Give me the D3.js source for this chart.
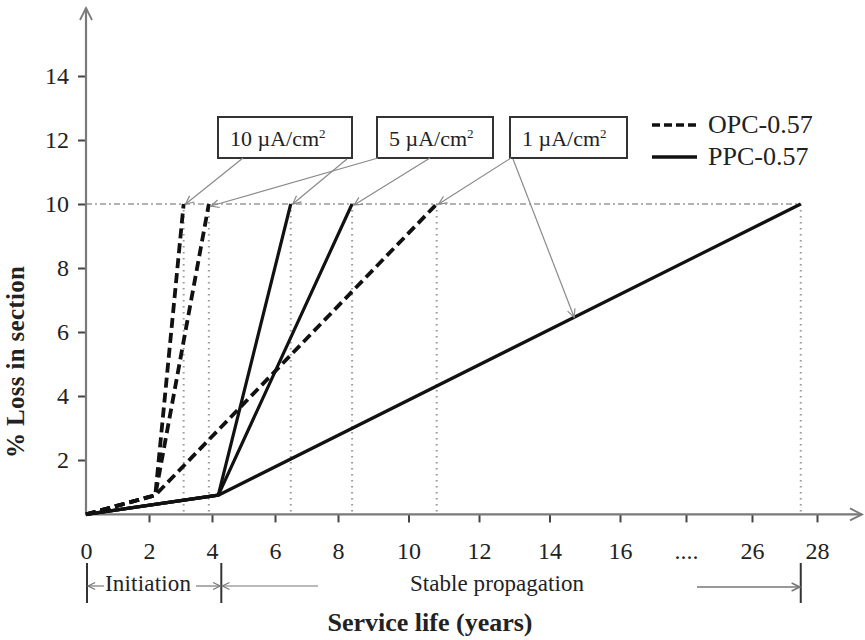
<!DOCTYPE html>
<html>
<head>
<meta charset="utf-8">
<script src="https://cdn.jsdelivr.net/npm/d3@7"></script>
<style>
  html, body { margin: 0; padding: 0; background: #fff; }
  svg { display: block; }
  text { font-family: "Liberation Serif", "Times New Roman", serif; fill: #222; }
</style>
</head>
<body>
<script>
// Corrosion loss of section vs service life, OPC-0.57 and PPC-0.57 concretes
const currentLabels = ["10", "5", "1"];            // µA/cm²
const startPoint = [0, 0.3];                        // [years, % loss]
const opcKnee = [2.2, 0.9];                         // end of initiation, OPC
const ppcKnee = [4.2, 0.9];                         // end of initiation, PPC
const opcEndYears = [3.1, 3.9, 10.8];               // years to reach the loss limit, per current
const ppcEndYears = [6.5, 8.4, 27.5];
const lossLimit = 10;
const xTickValues = [0, 2, 4, 6, 8, 10, 12, 14, 16, 21, 26, 28];
const xTickText = ["0", "2", "4", "6", "8", "10", "12", "14", "16", "....", "26", "28"];
const yTickValues = [2, 4, 6, 8, 10, 12, 14];
const legendNames = ["OPC-0.57", "PPC-0.57"];

const W = 865, H = 640;
const svg = d3.select("body").append("svg").attr("width", W).attr("height", H);

// broken time axis: 0–16 in two-year steps, then 26 and 28
const x = d3.scaleLinear().domain([0, 8, 16, 26, 28]).range([86, 338, 620, 752, 817]);
const y = d3.scaleLinear().domain([0, 16]).range([524, 12]);

const axisColor = "#7a7a7a";
const x0 = x(0), yBase = y(startPoint[1]);

function arrow(g, x1, y1, x2, y2, color, width, head) {
  g.append("line").attr("x1", x1).attr("y1", y1).attr("x2", x2).attr("y2", y2)
    .attr("stroke", color).attr("stroke-width", width);
  const a = Math.atan2(y2 - y1, x2 - x1), s = 0.45;
  const p = [
    [x2 - head * Math.cos(a - s), y2 - head * Math.sin(a - s)],
    [x2, y2],
    [x2 - head * Math.cos(a + s), y2 - head * Math.sin(a + s)]
  ];
  g.append("path").attr("d", d3.line()(p)).attr("fill", "none")
    .attr("stroke", color).attr("stroke-width", width);
}

// reference grid: loss limit and time to reach it
const ref = svg.append("g");
const allEnds = opcEndYears.concat(ppcEndYears);
ref.append("line").attr("x1", x0).attr("x2", x(d3.max(allEnds)))
  .attr("y1", y(lossLimit)).attr("y2", y(lossLimit))
  .attr("stroke", "#9a9a9a").attr("stroke-width", 1.6).attr("stroke-dasharray", "6,3,2,3");
ref.selectAll("line.v").data(allEnds).join("line").attr("class", "v")
  .attr("x1", d => x(d)).attr("x2", d => x(d))
  .attr("y1", y(lossLimit)).attr("y2", yBase)
  .attr("stroke", "#9a9a9a").attr("stroke-width", 2).attr("stroke-dasharray", "1.5,4.5");

// axes
const gx = svg.append("g").attr("transform", `translate(0,${yBase})`)
  .call(d3.axisBottom(x).tickValues(xTickValues).tickSize(8).tickPadding(20)
    .tickFormat((d, i) => xTickText[i]));
gx.select(".domain").remove();
gx.selectAll(".tick line").attr("stroke", "#444").attr("stroke-width", 2);
gx.selectAll(".tick").filter(d => d === 0).select("line").remove();
gx.selectAll(".tick text").attr("font-size", 24).attr("font-family", "Liberation Serif").attr("fill", "#222");

const gy = svg.append("g").attr("transform", `translate(${x0},0)`)
  .call(d3.axisLeft(y).tickValues(yTickValues).tickSize(8).tickPadding(9));
gy.select(".domain").remove();
gy.selectAll(".tick line").attr("stroke", "#444").attr("stroke-width", 2);
gy.selectAll(".tick text").attr("font-size", 24).attr("font-family", "Liberation Serif").attr("fill", "#222");

const axes = svg.append("g");
axes.append("line").attr("x1", x0).attr("x2", x0).attr("y1", yBase + 1).attr("y2", 8)
  .attr("stroke", axisColor).attr("stroke-width", 2.2);
axes.append("path").attr("d", `M${x0 - 6},${20}L${x0},${8}L${x0 + 6},${20}`)
  .attr("fill", "none").attr("stroke", axisColor).attr("stroke-width", 1.8);
axes.append("line").attr("x1", x0).attr("x2", 862).attr("y1", yBase).attr("y2", yBase)
  .attr("stroke", axisColor).attr("stroke-width", 2.2);
axes.append("path").attr("d", `M850,${yBase - 6}L862,${yBase}L850,${yBase + 6}`)
  .attr("fill", "none").attr("stroke", axisColor).attr("stroke-width", 1.8);

// loss curves
const line = d3.line().x(d => x(d[0])).y(d => y(d[1]));
const curves = svg.append("g").attr("fill", "none").attr("stroke", "#111");
opcEndYears.forEach(t => {
  curves.append("path").attr("d", line([startPoint, opcKnee, [t, lossLimit]]))
    .attr("stroke-width", 3.8).attr("stroke-dasharray", "10,5");
});
ppcEndYears.forEach(t => {
  curves.append("path").attr("d", line([startPoint, ppcKnee, [t, lossLimit]]))
    .attr("stroke-width", 3.2).attr("stroke-linejoin", "round");
});

// current-density callouts
const boxes = [
  { x: 218, w: 134 },
  { x: 377, w: 116 },
  { x: 510, w: 117 }
];
const boxTop = 117, boxH = 41;
const call = svg.append("g");
boxes.forEach((b, i) => {
  call.append("rect").attr("x", b.x).attr("y", boxTop).attr("width", b.w).attr("height", boxH)
    .attr("fill", "#fff").attr("stroke", "#333").attr("stroke-width", 2);
  const t = call.append("text").attr("x", b.x + 12).attr("y", boxTop + 29).attr("font-size", 22);
  t.append("tspan").text(currentLabels[i] + " µA/cm");
  t.append("tspan").attr("dy", -8).attr("font-size", 13).text("2");
});
const ac = "#8a8a8a";
arrow(call, 243, boxTop + boxH, x(opcEndYears[0]) + 2, y(lossLimit), ac, 1.2, 9);
arrow(call, 347, boxTop + boxH + 1, x(ppcEndYears[0]) + 2, y(lossLimit), ac, 1.2, 9);
arrow(call, 378, boxTop + boxH, x(opcEndYears[1]) + 2, y(lossLimit) + 2, ac, 1.2, 9);
arrow(call, 430, boxTop + boxH, x(ppcEndYears[1]) + 2, y(lossLimit) + 1, ac, 1.2, 9);
arrow(call, 511, boxTop + boxH, x(opcEndYears[2]) + 2, y(lossLimit), ac, 1.2, 9);
// pointer onto the PPC 1 µA/cm² curve (a straight segment on screen)
const tp = 14.7;
const kx = x(ppcKnee[0]), ky = y(ppcKnee[1]);
const ex = x(ppcEndYears[2]), ey = y(lossLimit);
const fr = (x(tp) - kx) / (ex - kx);
arrow(call, 513, boxTop + boxH + 1, x(tp), ky + fr * (ey - ky), ac, 1.2, 9);

// legend
const leg = svg.append("g");
legendNames.forEach((n, i) => {
  const ly = 125 + i * 32;
  leg.append("line").attr("x1", 652).attr("x2", 697).attr("y1", ly).attr("y2", ly)
    .attr("stroke", "#111").attr("stroke-width", 3.6)
    .attr("stroke-dasharray", i === 0 ? "8,4" : null);
  leg.append("text").attr("x", 708).attr("y", ly + 8).attr("font-size", 26).text(n);
});

// service-life stages
const st = svg.append("g");
const xi = x(ppcKnee[0]), xe = x(d3.max(ppcEndYears));
[x0 + 1, xi + 3, xe].forEach(px => {
  st.append("line").attr("x1", px).attr("x2", px).attr("y1", 563).attr("y2", 603)
    .attr("stroke", "#333").attr("stroke-width", 2);
});
const bc = "#777";
arrow(st, 104, 586, x0 + 2, 586, bc, 1.2, 8);
arrow(st, 196, 586, xi + 2, 586, bc, 1.2, 8);
arrow(st, 318, 586, xi + 4, 586, bc, 1.2, 8);
arrow(st, 697, 587, xe - 1, 587, bc, 1.6, 9);
st.append("text").attr("x", 148).attr("y", 591).attr("text-anchor", "middle")
  .attr("font-size", 23).attr("textLength", 86).text("Initiation");
st.append("text").attr("x", 497).attr("y", 591).attr("text-anchor", "middle")
  .attr("font-size", 23).attr("textLength", 174).text("Stable propagation");

// axis titles
svg.append("text").attr("x", 430).attr("y", 631).attr("text-anchor", "middle")
  .attr("font-size", 26).attr("font-weight", "bold").attr("fill", "#222").text("Service life (years)");
svg.append("text").attr("transform", "translate(24,362) rotate(-90)").attr("text-anchor", "middle")
  .attr("font-size", 25).attr("textLength", 192).attr("font-weight", "bold").attr("fill", "#222")
  .text("% Loss in section");
</script>
</body>
</html>
